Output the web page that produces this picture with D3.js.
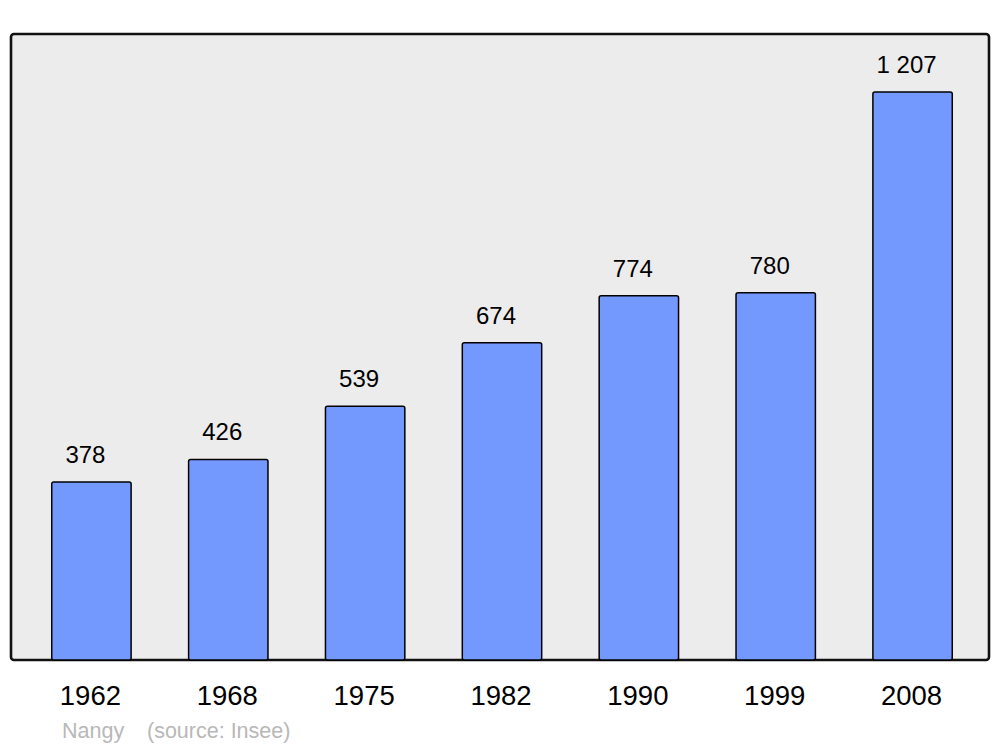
<!DOCTYPE html>
<html>
<head>
<meta charset="utf-8">
<script src="https://cdn.jsdelivr.net/npm/d3@7"></script>
<style>
  html, body { margin: 0; padding: 0; background: #fff; }
  svg { display: block; font-family: "Liberation Sans", Arial, sans-serif; }
</style>
</head>
<body>
<div id="chart"></div>
<script>
// census years and population (Nangy)
let years = ['1962', '1968', '1975', '1982', '1990', '1999', '2008'];
let population = [378, 426, 539, 674, 774, 780, 1207];
let townName = 'Nangy';
let sourceText = '(source: Insee)';

let width = 1000;
let height = 747;

let panel = { left: 11, top: 34, right: 989, bottom: 660 };

let svg = d3.select('#chart')
  .append('svg')
  .attr('width', width)
  .attr('height', height);

svg.append('rect')
  .attr('x', panel.left)
  .attr('y', panel.top)
  .attr('width', panel.right - panel.left)
  .attr('height', panel.bottom - panel.top)
  .attr('rx', 3)
  .attr('fill', '#ececec')
  .attr('stroke', '#111')
  .attr('stroke-width', 2.6);

let x = d3.scaleBand()
  .domain(years)
  .range([23, 981])
  .padding(0);

let y = d3.scaleLinear()
  .domain([0, 1330])
  .range([panel.bottom, panel.top]);

let barWidth = x.step() * 0.58;

let fr = d3.formatLocale({ decimal: ',', thousands: ' ', grouping: [3], currency: ['', ' €'] });
let fmt = fr.format(',d');

let data = years.map((year, i) => ({ year: year, value: population[i] }));

let bars = svg.append('g').classed('bars', true);

bars.selectAll('rect')
  .data(data)
  .enter()
  .append('rect')
  .attr('x', d => x(d.year) + x.bandwidth() / 2 - barWidth / 2)
  .attr('y', d => y(d.value))
  .attr('width', barWidth)
  .attr('height', d => panel.bottom - y(d.value))
  .attr('rx', 2)
  .attr('fill', '#7399ff')
  .attr('stroke', '#000')
  .attr('stroke-width', 1.5);

// value labels above each bar
bars.selectAll('text.value')
  .data(data)
  .enter()
  .append('text')
  .classed('value', true)
  .attr('x', d => x(d.year) + x.bandwidth() / 2 - 6)
  .attr('y', d => y(d.value) - 19)
  .attr('text-anchor', 'middle')
  .attr('font-size', 24)
  .attr('fill', '#000')
  .text(d => fmt(d.value));

// year labels under the panel
svg.append('g')
  .selectAll('text')
  .data(years)
  .enter()
  .append('text')
  .attr('x', d => x(d) + x.bandwidth() / 2 - 1)
  .attr('y', 705)
  .attr('text-anchor', 'middle')
  .attr('font-size', 27.5)
  .attr('fill', '#000')
  .text(d => d);

svg.append('text')
  .attr('x', 62)
  .attr('y', 738)
  .attr('font-size', 21.5)
  .attr('fill', '#b8b8b8')
  .text(townName);

svg.append('text')
  .attr('x', 147)
  .attr('y', 738)
  .attr('font-size', 21.5)
  .attr('fill', '#b8b8b8')
  .text(sourceText);
</script>
</body>
</html>
